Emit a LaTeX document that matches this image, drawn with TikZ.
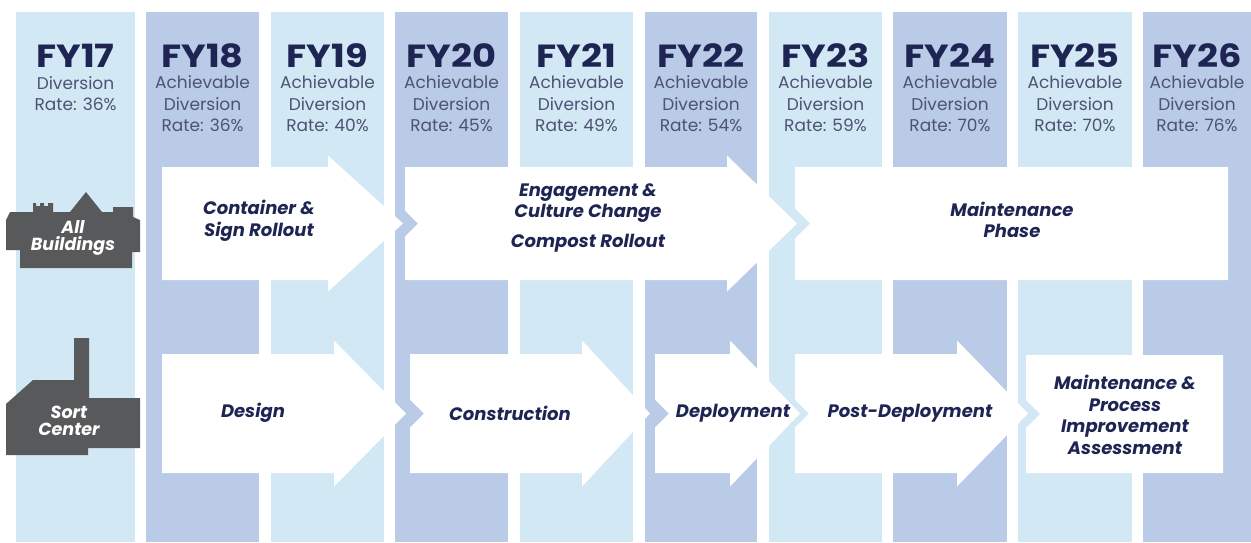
\documentclass[tikz,border=0pt]{standalone}
\usepackage{fontspec}
\setmainfont{Poppins}
\newfontfamily\fyfont[FakeStretch=1.15]{Poppins}
\definecolor{lightcol}{HTML}{D2E8F5}
\definecolor{darkcol}{HTML}{BACBE7}
\definecolor{navy}{HTML}{1F2553}
\definecolor{subgray}{HTML}{4D5372}
\definecolor{iconcol}{HTML}{58595B}
\newcommand{\flowarrow}[7]{%
  \fill[white] ({#1},{#5-#6}) -- ({#3},{#5-#6}) -- ({#3},{#5-#7}) -- ({#4},{#5})
    -- ({#3},{#5+#7}) -- ({#3},{#5+#6}) -- ({#1},{#5+#6}) -- ({#1},{#5+#2})
    -- ({#1+#2},{#5}) -- ({#1},{#5-#2}) -- cycle;}
\newcommand{\notchbox}[5]{%
  \fill[white] ({#1},{#4}) -- ({#2},{#4}) -- ({#2},{#5}) -- ({#1},{#5})
    -- ({#1},{(#4+#5)/2+#3}) -- ({#1+#3},{(#4+#5)/2}) -- ({#1},{(#4+#5)/2-#3}) -- cycle;}
\begin{document}
\begin{tikzpicture}[x=1pt,y=-1pt,
  fyt/.style={font=\fyfont\fontsize{32}{32}\selectfont\bfseries, text=navy, anchor=base, inner sep=0pt},
  subt/.style={font=\fontsize{17}{17}\selectfont, text=subgray, anchor=base, inner sep=0pt},
  lbl/.style={font=\fontsize{18}{21.5}\selectfont\bfseries\itshape, text=navy, align=center, inner sep=0pt},
  icontext/.style={font=\fontsize{17.5}{17}\selectfont\bfseries\itshape, text=white, align=center, inner sep=0pt}]
\useasboundingbox (0,0) rectangle (1251,542);
\fill[white] (0,0) rectangle (1251,542);
% columns
\fill[lightcol] (16,12) rectangle (135,542);
\foreach \l/\r/\c in {146/259/darkcol, 271/384/lightcol, 395/508/darkcol, 520/633/lightcol,
  645/757/darkcol, 769/882/lightcol, 893/1007/darkcol, 1018/1132/lightcol, 1143/1251/darkcol}
  \fill[\c] (\l,12) rectangle (\r,542);
% column headers
\node[fyt] (fy17) at (75.5,67) {FY17};
\node[subt] (fy17a) at (75.5,89) {Diversion};
\node[subt] (fy17b) at (75.5,110.5) {Rate: 36\%};
\foreach \x/\y/\p in {202.5/18/36, 327.5/19/40, 451.5/20/45, 576.5/21/49, 701/22/54,
  825.5/23/59, 950/24/70, 1075/25/70, 1197/26/76}{
  \node[fyt] (fy\y) at (\x,67) {FY\y};
  \node[subt] (fy\y a) at (\x,88.5) {Achievable};
  \node[subt] (fy\y b) at (\x,110) {Diversion};
  \node[subt] (fy\y c) at (\x,131.5) {Rate: \p\%};
}
% top row arrows
\flowarrow{162}{0}{328}{403}{223.5}{56.5}{68}
\flowarrow{405}{13}{727}{797}{223.5}{56.5}{68}
\notchbox{795}{1228}{15}{167}{280}
% bottom row arrows
\flowarrow{162}{0}{334}{406}{413.5}{59.5}{73}
\flowarrow{410}{14}{582}{650}{413.5}{59.5}{73}
\flowarrow{655}{14}{730}{800}{413.5}{59.5}{73}
\flowarrow{795}{14}{957}{1028}{413.5}{59.5}{73}
\notchbox{1026}{1223}{14}{355}{473}
% labels
\node[lbl] (cont) at (259,221) {Container \&\\Sign Rollout};
\node[lbl] (eng) at (588,203) {Engagement \&\\Culture Change};
\node[lbl] (comp) at (588,243) {Compost Rollout};
\node[lbl] (mphase) at (1012,220) {Maintenance\\Phase};
\node[lbl] (design) at (253,413) {Design};
\node[lbl] (constr) at (510,413) {Construction};
\node[lbl] (deploy) at (733,413) {Deployment};
\node[lbl] (post) at (910,413) {Post-Deployment};
\node[lbl] (mpia) at (1125,415) {Maintenance \&\\Process\\Improvement\\Assessment};
% All Buildings icon
\fill[iconcol] (6,220) -- (10,212) -- (33,212) -- (33,203) -- (36,203) -- (36,206) -- (40,206)
  -- (40,203) -- (44,203) -- (44,206) -- (48,206) -- (48,203) -- (53,203) -- (53,212)
  -- (70,212) -- (86,192) -- (102,212) -- (113,212) -- (113,207) -- (133,207) -- (133,217)
  -- (140,220) -- (140,252) -- (132,252) -- (132,268) -- (20,268) -- (20,250) -- (6,250) -- cycle;
\node[icontext] (allb) at (73,238) {All\\Buildings};
% Sort Center icon
\fill[iconcol] (6,404) -- (33,380) -- (74,380) -- (74,338) -- (89,338) -- (89,398) -- (140,398)
  -- (140,448) -- (88,448) -- (88,455) -- (6,455) -- cycle;
\node[icontext] (sortc) at (69,421) {Sort\\Center};
\end{tikzpicture}
\end{document}
